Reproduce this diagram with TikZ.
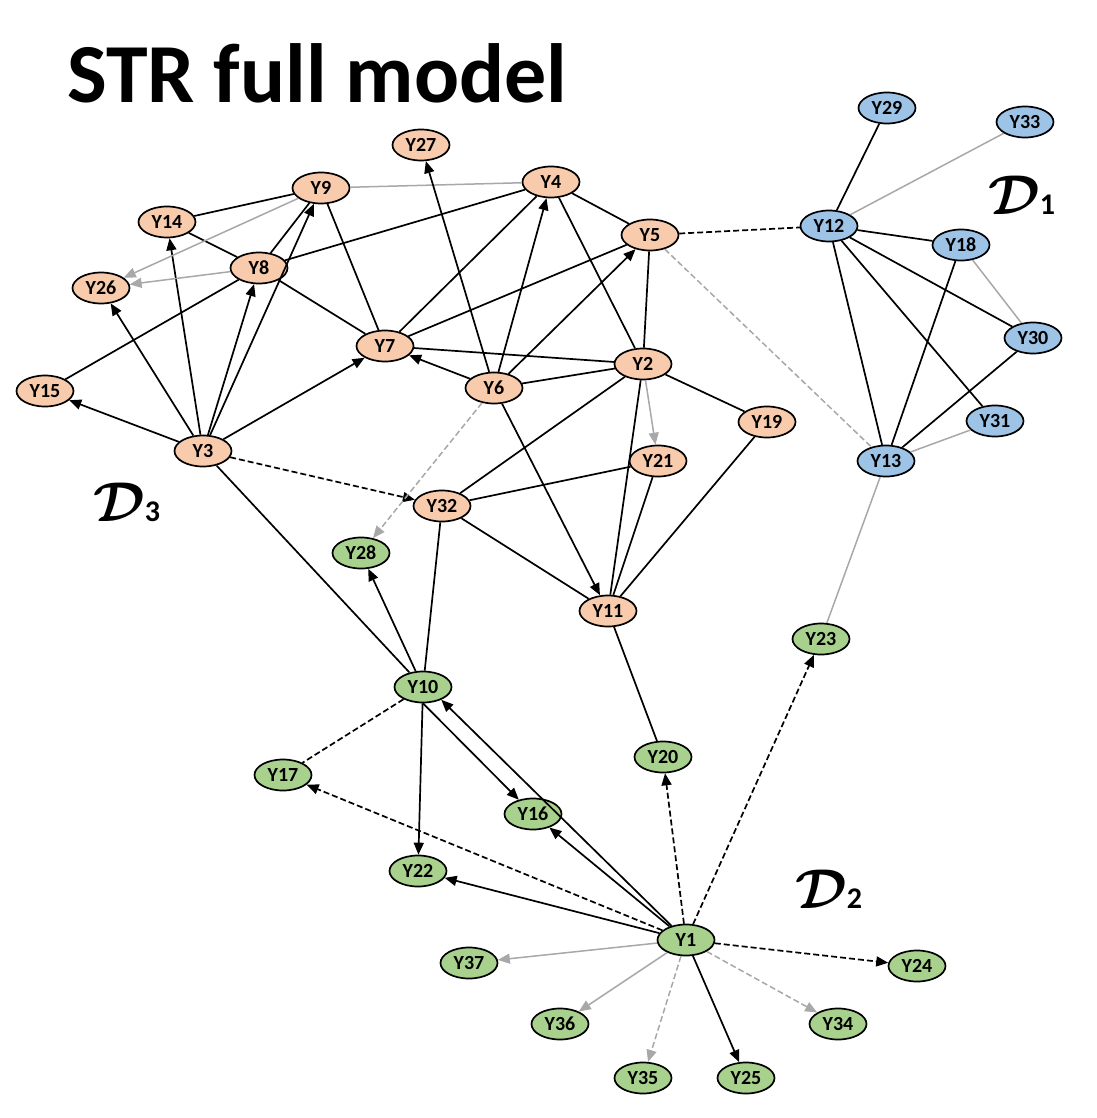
\documentclass[tikz,border=0pt]{standalone}
\usepackage{bm}
\usepackage{graphicx}
\usepackage{fontspec}
\setmainfont{Carlito}
\usetikzlibrary{shapes.geometric,arrows.meta}
\definecolor{orf}{HTML}{F8CBAD}
\definecolor{blf}{HTML}{9DC3E6}
\definecolor{grf}{HTML}{A9D18E}
\definecolor{lgray}{HTML}{A8A8A8}
\newcommand{\domlab}[1]{\fontsize{10}{10}\selectfont\scalebox{5.6}{$\bm{\mathcal{D}}$}\fontsize{30}{30}\selectfont\bfseries #1}
\begin{document}
\begin{tikzpicture}[x=1pt,y=-1pt,
  vnode/.style={ellipse,draw=black,line width=1.7pt,minimum width=57pt,minimum height=31pt,inner sep=0pt,font=\fontsize{20}{20}\selectfont\bfseries},
  onode/.style={vnode,fill=orf},
  bnode/.style={vnode,fill=blf},
  gnode/.style={vnode,fill=grf},
  blk/.style={line width=1.7pt,draw=black},
  gry/.style={line width=1.5pt,draw=lgray},
  dsh/.style={dash pattern=on 6pt off 3pt},
  tip/.style={-{Triangle[length=12pt,width=10pt]}},
  dlabel/.style={anchor=base west,inner sep=0pt}
]
\useasboundingbox (0,0) rectangle (1096,1118);

% title
\node[anchor=base west,inner sep=0pt,font=\fontsize{84}{84}\selectfont\bfseries] (title) at (67,103) {STR full model};

% domain labels
\node[dlabel] (d1) at (988,214) {\domlab{1}};
\node[dlabel] (d3) at (93,521) {\domlab{3}};
\node[dlabel] (d2) at (795,908) {\domlab{2}};

% orange nodes
\node[onode] (Y27) at (421,145) {Y27};
\node[onode] (Y9)  at (321,188) {Y9};
\node[onode] (Y4)  at (551,182) {Y4};
\node[onode] (Y14) at (167,222) {Y14};
\node[onode] (Y8)  at (259,268) {Y8};
\node[onode] (Y26) at (101,288) {Y26};
\node[onode] (Y5)  at (650,235) {Y5};
\node[onode] (Y7)  at (385,346) {Y7};
\node[onode] (Y2)  at (643,364) {Y2};
\node[onode] (Y6)  at (494,388) {Y6};
\node[onode] (Y15) at (45,391) {Y15};
\node[onode] (Y3)  at (203,451) {Y3};
\node[onode] (Y19) at (767,422) {Y19};
\node[onode] (Y21) at (658,461) {Y21};
\node[onode] (Y32) at (442,506) {Y32};
\node[onode] (Y11) at (608,611) {Y11};

% blue nodes
\node[bnode] (Y29) at (887,108) {Y29};
\node[bnode] (Y33) at (1025,122) {Y33};
\node[bnode] (Y12) at (829,226) {Y12};
\node[bnode] (Y18) at (961,245) {Y18};
\node[bnode] (Y30) at (1033,338) {Y30};
\node[bnode] (Y31) at (995,421) {Y31};
\node[bnode] (Y13) at (886,461) {Y13};

% green nodes
\node[gnode] (Y28) at (361,553) {Y28};
\node[gnode] (Y23) at (821,639) {Y23};
\node[gnode] (Y10) at (423,687) {Y10};
\node[gnode] (Y20) at (663,757) {Y20};
\node[gnode] (Y17) at (283,775) {Y17};
\node[gnode] (Y16) at (533,814) {Y16};
\node[gnode] (Y22) at (418,871) {Y22};
\node[gnode] (Y1)  at (686,940) {Y1};
\node[gnode] (Y37) at (469,963) {Y37};
\node[gnode] (Y24) at (917,966) {Y24};
\node[gnode] (Y36) at (560,1024) {Y36};
\node[gnode] (Y34) at (838,1024) {Y34};
\node[gnode] (Y35) at (643,1078) {Y35};
\node[gnode] (Y25) at (746,1078) {Y25};

% black undirected
\draw[blk] (Y9) -- (Y14);
\draw[blk] (Y14) -- (Y8);
\draw[blk] (Y8) -- (Y9);
\draw[blk] (Y8) -- (Y4);
\draw[blk] (Y8) -- (Y15);
\draw[blk] (Y8) -- (Y7);
\draw[blk] (Y7) -- (Y9);
\draw[blk] (Y7) -- (Y4);
\draw[blk] (Y7) -- (Y5);
\draw[blk] (Y7) -- (Y2);
\draw[blk] (Y4) -- (Y5);
\draw[blk] (Y4) -- (Y2);
\draw[blk] (Y5) -- (Y2);
\draw[blk] (Y6) -- (Y2);
\draw[blk] (Y2) -- (Y19);
\draw[blk] (Y2) -- (Y32);
\draw[blk] (Y2) -- (Y11);
\draw[blk] (Y32) -- (Y21);
\draw[blk] (Y32) -- (Y11);
\draw[blk] (Y21) -- (Y11);
\draw[blk] (Y19) -- (Y11);
\draw[blk] (Y11) -- (Y20);
\draw[blk] (Y32) -- (Y10);
\draw[blk] (Y3) -- (Y10);
\draw[blk] (Y12) -- (Y29);
\draw[blk] (Y12) -- (Y18);
\draw[blk] (Y12) -- (Y30);
\draw[blk] (Y12) -- (Y31);
\draw[blk] (Y12) -- (Y13);
\draw[blk] (Y18) -- (Y13);
\draw[blk] (Y30) -- (Y13);

% gray undirected
\draw[gry] (Y9) -- (Y4);
\draw[gry] (Y12) -- (Y33);
\draw[gry] (Y18) -- (Y30);
\draw[gry] (Y31) -- (Y13);
\draw[gry] (Y13) -- (Y23);
\draw[gry,dsh] (Y5) -- (Y13);

% black dashed undirected
\draw[blk,dsh] (Y5) -- (Y12);
\draw[blk,dsh] (Y10) -- (Y17);

% black directed
\draw[blk,tip] (Y3) -- (Y15);
\draw[blk,tip] (Y3) -- (Y26);
\draw[blk,tip] (Y3) -- (Y14);
\draw[blk,tip] (Y3) -- (Y8);
\draw[blk,tip] (Y3) -- (Y9);
\draw[blk,tip] (Y3) -- (Y7);
\draw[blk,tip] (Y6) -- (Y7);
\draw[blk,tip] (Y6) -- (Y27);
\draw[blk,tip] (Y6) -- (Y4);
\draw[blk,tip] (Y6) -- (Y5);
\draw[blk,tip] (Y6) -- (Y11);
\draw[blk,tip] (Y10) -- (Y28);
\draw[blk,tip] (Y10) -- (Y22);
\draw[blk,tip] (Y10.south) -- (Y16);
\draw[blk,tip] (Y1) -- (Y10.-35);
\draw[blk,tip] (Y1) -- (Y16);
\draw[blk,tip] (Y1) -- (Y22);
\draw[blk,tip] (Y1) -- (Y25);

% black dashed directed
\draw[blk,dsh,tip] (Y3) -- (Y32);
\draw[blk,dsh,tip] (Y1) -- (Y17);
\draw[blk,dsh,tip] (Y1) -- (Y20);
\draw[blk,dsh,tip] (Y1) -- (Y23);
\draw[blk,dsh,tip] (Y1) -- (Y24);

% gray directed
\draw[gry,tip] (Y9) -- (Y26);
\draw[gry,tip] (Y8) -- (Y26);
\draw[gry,tip] (Y2) -- (Y21);
\draw[gry,tip] (Y1) -- (Y37);
\draw[gry,tip] (Y1) -- (Y36);

% gray dashed directed
\draw[gry,dsh,tip] (Y6) -- (Y28);
\draw[gry,dsh,tip] (Y1) -- (Y35);
\draw[gry,dsh,tip] (Y1) -- (Y34);
\end{tikzpicture}
\end{document}
